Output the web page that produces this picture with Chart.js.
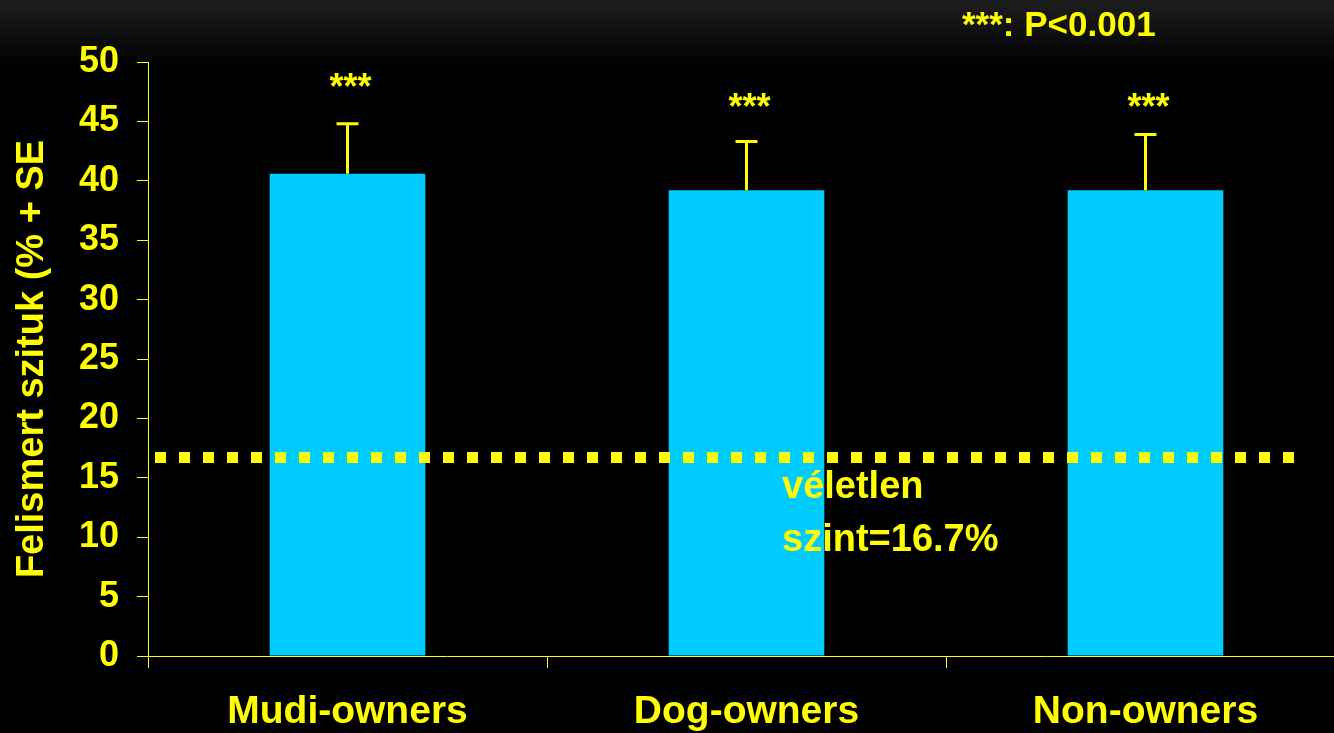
<!DOCTYPE html>
<html>
<head>
<meta charset="utf-8">
<script src="https://cdn.jsdelivr.net/npm/chart.js@4/dist/chart.umd.min.js"></script>
<style>
  html, body {
    margin: 0;
    padding: 0;
    overflow: hidden;
    width: 1334px;
    height: 733px;
    background: linear-gradient(to bottom, #1e1e1e 0px, #0a0a0a 45px, #000 70px, #000 100%);
  }
  .chart-container {
    position: relative;
    width: 1345px;
    height: 733px;
  }
</style>
</head>
<body>
<div class="chart-container">
  <canvas id="chart"></canvas>
</div>
<script>
const categories = ['Mudi-owners', 'Dog-owners', 'Non-owners'];
const recognised = [40.6, 39.2, 39.2];   // mean %
const stdErr = [4.2, 4.1, 4.7];          // + SE
const starLevel = [46.9, 45.2, 45.2];    // where the *** marks sit
const chanceLevel = 16.7;
const yTicks = [0, 5, 10, 15, 20, 25, 30, 35, 40, 45, 50];

const YELLOW = '#FFFF00';
const FONT = "'Liberation Sans', Arial, sans-serif";

// error bars, stars, chance line and notes
const overlay = {
  id: 'overlay',
  afterDatasetsDraw(chart) {
    const ctx = chart.ctx;
    const x = chart.scales.x;
    const y = chart.scales.y;
    const area = chart.chartArea;

    ctx.save();

    // error bars (upper only)
    ctx.strokeStyle = YELLOW;
    ctx.lineWidth = 3;
    recognised.forEach((v, i) => {
      const cx = x.getPixelForValue(i);
      const top = y.getPixelForValue(v + stdErr[i]);
      const base = y.getPixelForValue(v);
      ctx.beginPath();
      ctx.moveTo(cx, base);
      ctx.lineTo(cx, top);
      ctx.moveTo(cx - 11, top);
      ctx.lineTo(cx + 11, top);
      ctx.stroke();
    });

    // *** above the bars
    ctx.fillStyle = YELLOW;
    ctx.font = 'bold 36px ' + FONT;
    ctx.textAlign = 'center';
    ctx.textBaseline = 'alphabetic';
    starLevel.forEach((s, i) => {
      ctx.fillText('***', x.getPixelForValue(i) + 3, y.getPixelForValue(s));
    });

    // chance level line
    const cy = y.getPixelForValue(chanceLevel);
    ctx.setLineDash([11, 13]);
    ctx.lineWidth = 11;
    ctx.beginPath();
    ctx.moveTo(area.left + 7, cy);
    ctx.lineTo(1306, cy);
    ctx.stroke();
    ctx.setLineDash([]);

    ctx.textAlign = 'left';
    ctx.font = 'bold 38px ' + FONT;
    ctx.fillText('véletlen', 782, cy + 40);
    ctx.fillText('szint=' + chanceLevel + '%', 782, cy + 93);

    // significance note
    ctx.font = 'bold 35px ' + FONT;
    ctx.fillText('***: P<0.001', 962, 36);

    ctx.restore();
  }
};

new Chart(document.getElementById('chart'), {
  type: 'bar',
  data: {
    labels: categories,
    datasets: [
      {
        label: 'Felismert szituk',
        data: recognised,
        backgroundColor: '#00CCFF',
        borderWidth: 0,
        categoryPercentage: 1,
        barPercentage: 0.39,
      },
    ],
  },
  options: {
    responsive: true,
    maintainAspectRatio: false,
    animation: false,
    layout: {
      padding: { top: 62, left: 0, right: 0, bottom: 0 },
    },
    scales: {
      x: {
        offset: true,
        grid: {
          display: true,
          offset: true,
          drawOnChartArea: false,
          drawTicks: true,
          tickLength: 12,
          color: YELLOW,
        },
        border: { display: true, color: YELLOW, width: 1 },
        ticks: {
          color: YELLOW,
          padding: 21,
          font: { family: FONT, size: 39, weight: 'bold' },
          maxRotation: 0,
        },
        afterFit: (scale) => {
          scale.height = 77;
        },
      },
      y: {
        min: 0,
        max: 50,
        afterBuildTicks: (scale) => {
          scale.ticks = yTicks.map((v) => ({ value: v }));
        },
        grid: {
          display: true,
          drawOnChartArea: false,
          drawTicks: true,
          tickLength: 11,
          color: YELLOW,
        },
        border: { display: true, color: YELLOW, width: 1 },
        ticks: {
          color: YELLOW,
          padding: 18,
          font: { family: FONT, size: 36, weight: 'bold' },
        },
        title: {
          display: true,
          text: 'Felismert szituk (% + SE',
          color: YELLOW,
          font: { family: FONT, size: 38, weight: 'bold' },
          padding: { top: 10, bottom: 0 },
        },
        afterFit: (scale) => {
          scale.width = 148;
        },
      },
    },
    plugins: {
      legend: { display: false },
      tooltip: { enabled: false },
    },
  },
  plugins: [overlay],
});
</script>
</body>
</html>
